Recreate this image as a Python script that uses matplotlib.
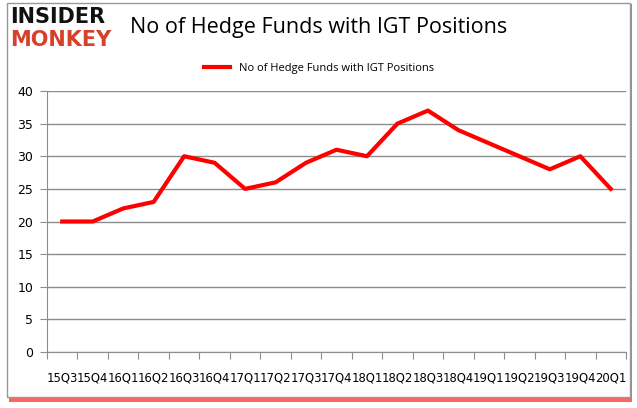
import matplotlib
matplotlib.use('Agg')
import matplotlib.pyplot as plt
from matplotlib.patches import Rectangle

quarters = ['15Q3', '15Q4', '16Q1', '16Q2', '16Q3', '16Q4', '17Q1', '17Q2', '17Q3', '17Q4',
            '18Q1', '18Q2', '18Q3', '18Q4', '19Q1', '19Q2', '19Q3', '19Q4', '20Q1']
hedge_funds = [20, 20, 22, 23, 30, 29, 25, 26, 29, 31, 30, 35, 37, 34, 32, 30, 28, 30, 25]

plt.rcParams['font.family'] = ['DejaVu Sans']

fig = plt.figure(figsize=(6.37, 4.08), dpi=100)
W, H = 637, 408

# frame with red shadow
fig.patches.append(Rectangle((9 / W, 1 - 402 / H), 623 / W, 398 / H, transform=fig.transFigure,
                             facecolor='#ff3030', edgecolor='none', alpha=0.75, zorder=0))
fig.patches.append(Rectangle((7 / W, 1 - 397 / H), 623 / W, 394 / H, transform=fig.transFigure,
                             facecolor='white', edgecolor='#999999', linewidth=1, zorder=1))

ax = fig.add_axes([47 / W, 1 - 352 / H, 579 / W, 261 / H])
ax.set_zorder(2)
x = range(len(quarters))
ax.plot(x, hedge_funds, color='#ff0000', linewidth=3, solid_joinstyle='round',
        label='No of Hedge Funds with IGT Positions')
ax.set_xlim(-0.5, len(quarters) - 0.5)
ax.set_ylim(0, 40)
ax.set_yticks(range(0, 41, 5))
ax.yaxis.grid(True, color='#8c8c8c', linewidth=1)
ax.set_axisbelow(True)
ax.set_xticks([i - 0.5 for i in range(len(quarters) + 1)], minor=False)
ax.set_xticklabels([])
ax.set_xticks(list(x), minor=True)
ax.set_xticklabels(quarters, minor=True, fontsize=8.4)
ax.tick_params(axis='x', which='minor', length=0, pad=14)
ax.tick_params(axis='x', which='major', length=5, color='#8c8c8c', direction='out')
ax.tick_params(axis='y', length=5, color='#8c8c8c', labelsize=9, pad=5)
for s in ['top', 'right']:
    ax.spines[s].set_visible(False)
ax.spines['left'].set_color('#8c8c8c')
ax.spines['bottom'].set_color('#8c8c8c')

ax.legend(loc='upper center', bbox_to_anchor=(0.47, 1.145), frameon=False,
          handlelength=2.3, prop={'family': 'Open Sans', 'size': 8})

fig.text(130 / W, 1 - 27 / H, 'No of Hedge Funds with IGT Positions', fontsize=15.5,
         va='center', ha='left', color='black', family='Open Sans')
fig.text(10 / W, 1 - 17 / H, 'INSIDER', fontsize=15, fontweight='bold', va='center',
         ha='left', color='#111111', family='DejaVu Sans Condensed')
fig.text(10 / W, 1 - 40 / H, 'MONKEY', fontsize=15, fontweight='bold', va='center',
         ha='left', color='#d9402a', family='DejaVu Sans Condensed')

fig.savefig('out.png', dpi=100)
